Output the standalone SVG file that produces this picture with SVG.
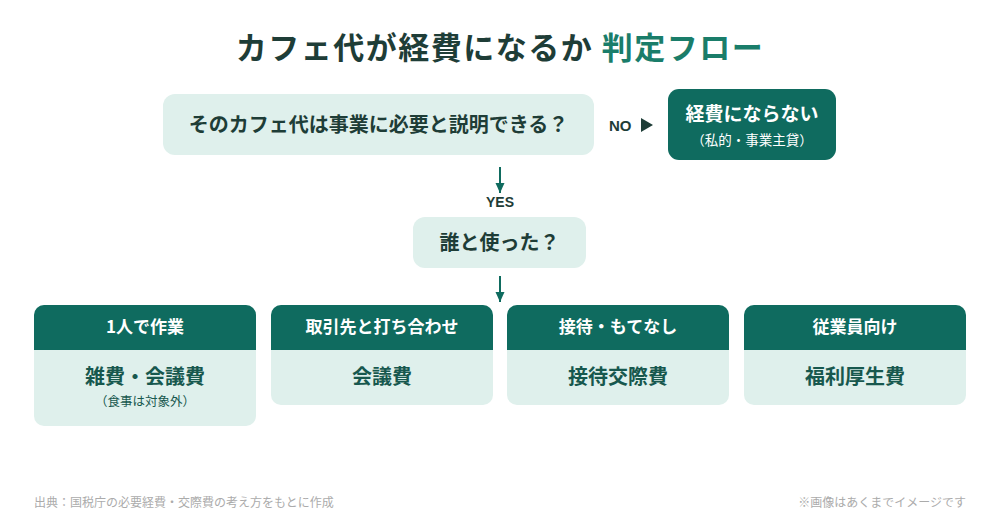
<svg xmlns="http://www.w3.org/2000/svg" width="1000" height="523" viewBox="0 0 1000 523">
<defs>
<style>
text{font-family:"Noto Sans CJK JP","Noto Sans",sans-serif;}
.dark{fill:#1e3d37;}
.b{font-weight:bold;}
.light{fill:#dff0ec;}
.teal{fill:#0f6b5f;}
.w{fill:#ffffff;}
.ct{fill:#17584e;}
.foot{fill:#ababab;font-size:12px;}
.conn{stroke:#0f6b5f;stroke-width:2;fill:none;}
.hd{font-size:17px;}
</style>
<marker id="ah" markerWidth="12" markerHeight="10" refX="10" refY="5" orient="auto" markerUnits="userSpaceOnUse">
<path d="M0,0.5 L10,5 L0,9.5 Z" fill="#0f6b5f"/>
</marker>
</defs>
<rect width="1000" height="523" fill="#ffffff"/>
<g id="title">
<text x="500" y="59" text-anchor="middle" font-size="31" letter-spacing="1.5" class="b"><tspan class="dark">カフェ代が経費になるか </tspan><tspan fill="#1a7d6a">判定フロー</tspan></text>
</g>
<g id="q1">
<rect x="163" y="94" width="431" height="61" rx="12" class="light"/>
<text x="378.5" y="132" text-anchor="middle" font-size="20" class="b dark">そのカフェ代は事業に必要と説明できる？</text>
</g>
<g id="no-result">
<rect x="668" y="89" width="168" height="71" rx="11" class="teal"/>
<text x="752" y="121" text-anchor="middle" font-size="19" class="b w">経費にならない</text>
<text x="752" y="145" text-anchor="middle" font-size="13.5" class="w">（私的・事業主貸）</text>
</g>
<g id="q2">
<rect x="413" y="217" width="173" height="51" rx="12" class="light"/>
<text x="499.5" y="250" text-anchor="middle" font-size="20" class="b dark">誰と使った？</text>
</g>
<g id="connectors">
<text x="609" y="131" font-size="15" class="b dark" style="font-family:'Liberation Sans',sans-serif">NO</text>
<path d="M641,118 L653,125 L641,132 Z" fill="#1e3d37"/>
<line x1="500" y1="167" x2="500" y2="193" class="conn" marker-end="url(#ah)"/>
<text x="500" y="207" text-anchor="middle" font-size="14" class="b dark" style="font-family:'Liberation Sans',sans-serif">YES</text>
<line x1="500" y1="276" x2="500" y2="302" class="conn" marker-end="url(#ah)"/>
</g>
<g id="card1">
<rect x="34" y="305" width="222" height="121" rx="10" class="light"/>
<path d="M34,350 V315 A10,10 0 0 1 44,305 H246 A10,10 0 0 1 256,315 V350 Z" class="teal"/>
<text x="145" y="333" text-anchor="middle" class="hd b w">1人で作業</text>
<text x="145" y="384" text-anchor="middle" font-size="20" class="b ct">雑費・会議費</text>
<text x="145" y="406" text-anchor="middle" font-size="12.5" class="ct">（食事は対象外）</text>
</g>
<g id="card2">
<rect x="271" y="305" width="222" height="100" rx="10" class="light"/>
<path d="M271,350 V315 A10,10 0 0 1 281,305 H483 A10,10 0 0 1 493,315 V350 Z" class="teal"/>
<text x="382" y="333" text-anchor="middle" class="hd b w">取引先と打ち合わせ</text>
<text x="382" y="384" text-anchor="middle" font-size="20" class="b ct">会議費</text>
</g>
<g id="card3">
<rect x="507" y="305" width="222" height="100" rx="10" class="light"/>
<path d="M507,350 V315 A10,10 0 0 1 517,305 H719 A10,10 0 0 1 729,315 V350 Z" class="teal"/>
<text x="618" y="333" text-anchor="middle" class="hd b w">接待・もてなし</text>
<text x="618" y="384" text-anchor="middle" font-size="20" class="b ct">接待交際費</text>
</g>
<g id="card4">
<rect x="744" y="305" width="222" height="100" rx="10" class="light"/>
<path d="M744,350 V315 A10,10 0 0 1 754,305 H956 A10,10 0 0 1 966,315 V350 Z" class="teal"/>
<text x="855" y="333" text-anchor="middle" class="hd b w">従業員向け</text>
<text x="855" y="384" text-anchor="middle" font-size="20" class="b ct">福利厚生費</text>
</g>
<g id="footer">
<text x="34" y="507" class="foot">出典：国税庁の必要経費・交際費の考え方をもとに作成</text>
<text x="966" y="507" text-anchor="end" class="foot">※画像はあくまでイメージです</text>
</g>
</svg>
